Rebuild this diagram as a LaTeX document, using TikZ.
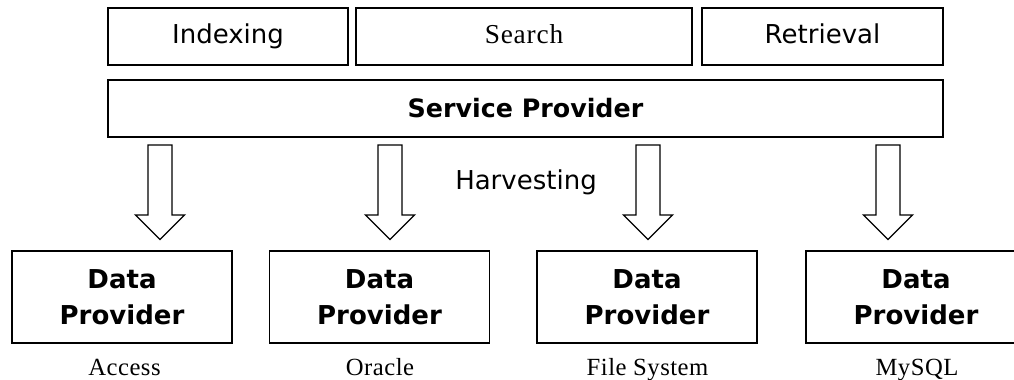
\documentclass[tikz,border=0pt]{standalone}
\usepackage{fontspec}
\newfontfamily\dvs{DejaVu Sans}
\newfontfamily\lserif[LetterSpace=2]{Liberation Serif}
\newfontfamily\lserifw[LetterSpace=3]{Liberation Serif}
\begin{document}
\begin{tikzpicture}[x=0.75pt,y=-0.75pt,
  box/.style={draw=black,line width=1pt,inner sep=0pt},
  topbox/.style={box,minimum height=57*0.75pt,text height=14.8pt,text depth=4.7pt,
    font=\dvs\fontsize{19.5}{23}\selectfont},
  dpbox/.style={box,minimum width=220*0.75pt,minimum height=92*0.75pt,align=center,
    font=\dvs\bfseries\fontsize{19.5}{27}\selectfont},
  lbl/.style={anchor=base,inner sep=0pt,font=\lserif\fontsize{18.5}{22}\selectfont},
  harrow/.style={draw=black,line width=1pt,fill=white,line join=miter}]
\useasboundingbox (0,0) rectangle (1014,379);
% top row
\node[topbox,minimum width=240*0.75pt] (idx) at (228,36.5) {Indexing};
\node[topbox,minimum width=336*0.75pt,font=\lserifw\fontsize{20.5}{23}\selectfont] (srch) at (524,36.5) {Search};
\node[topbox,minimum width=241*0.75pt] (retr) at (822.5,36.5) {Retrieval};
\node[box,minimum width=835*0.75pt,minimum height=57*0.75pt,text height=13.9pt,text depth=0pt,
  font=\dvs\bfseries\fontsize{19}{23}\selectfont] (sp) at (525.5,108.5) {Service Provider};
% data providers
\node[dpbox] (dp1) at (122,297) {Data\\Provider};
\node[dpbox] (dp2) at (379.5,297) {Data\\Provider};
\node[dpbox] (dp3) at (647,297) {Data\\Provider};
\begin{scope}
\clip (0,0) rectangle (1014,379);
\node[dpbox] (dp4) at (916,297) {Data\\Provider};
\end{scope}
% labels
\node[lbl] (l1) at (124.5,375) {Access};
\node[lbl] (l2) at (380,375) {Oracle};
\node[lbl] (l3) at (647.5,375) {File System};
\node[lbl] (l4) at (917,375) {MySQL};
\node[anchor=base,inner sep=0pt,font=\dvs\fontsize{19.5}{23}\selectfont] (harv) at (526,189) {Harvesting};
% arrows
\foreach \n/\ax in {1/160,2/390,3/648,4/888}{
  \coordinate (a\n) at (\ax,145);
  \draw[harrow] (a\n) ++(-12,0) -- ++(0,70) -- ++(-12.5,0) -- ++(24.5,24.5) -- ++(24.5,-24.5) -- ++(-12.5,0) -- ++(0,-70) -- cycle;
}
\end{tikzpicture}
\end{document}
